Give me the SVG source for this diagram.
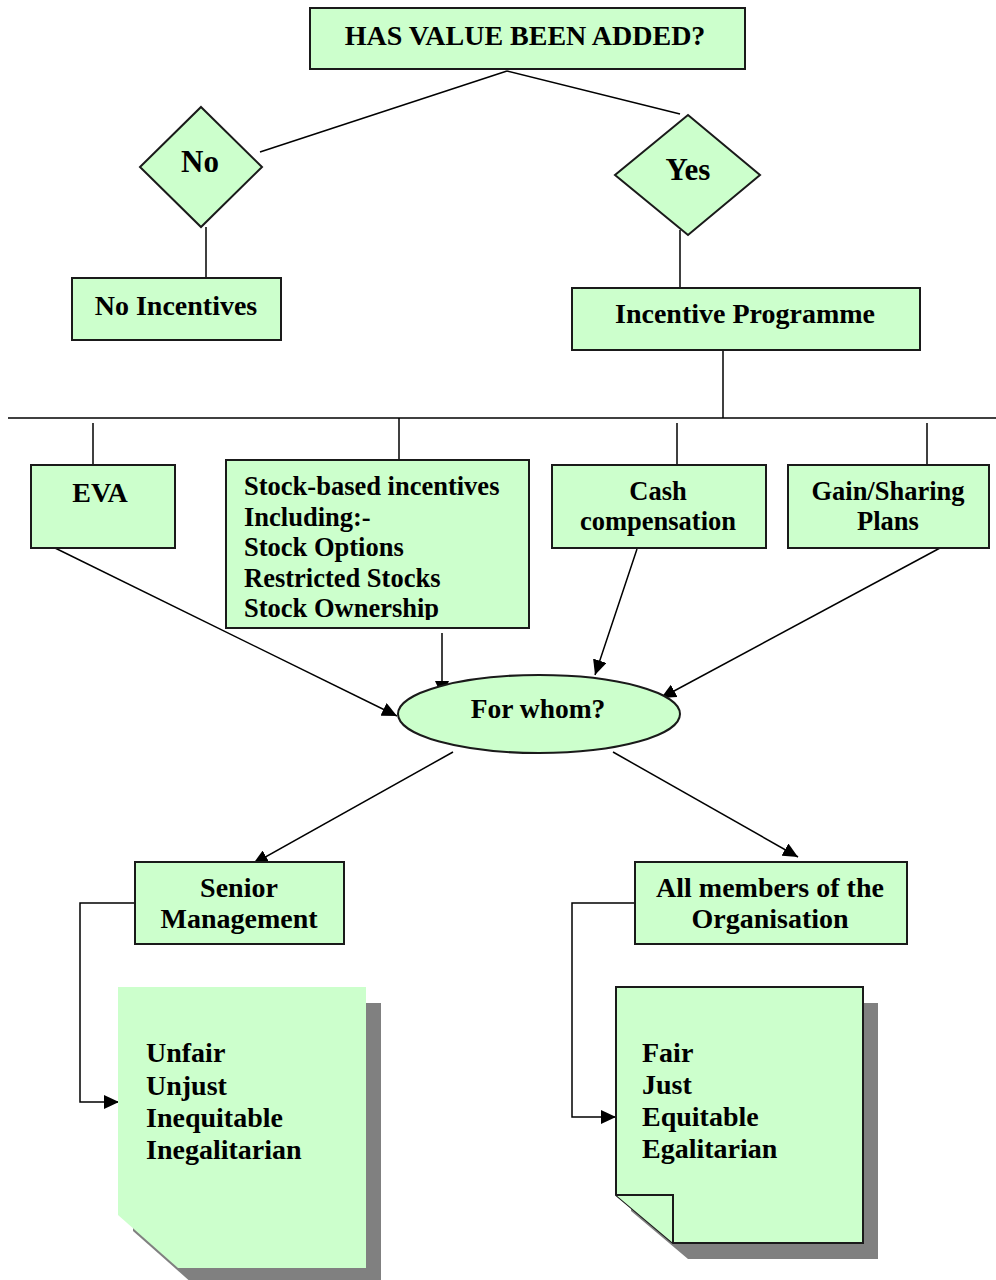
<svg xmlns="http://www.w3.org/2000/svg" width="996" height="1280" viewBox="0 0 996 1280">
<style>
.box{fill:#CCFFCC;stroke:#1a1a1a;stroke-width:2}
.ln{fill:none;stroke:#000;stroke-width:1.5}
.t{font-family:"Liberation Serif","Times New Roman",serif;font-weight:bold;font-size:28px;fill:#000}
.s{font-size:26.5px}
.c{text-anchor:middle}
.sh{fill:#808080}
</style>
<defs>
<marker id="ah" markerUnits="userSpaceOnUse" markerWidth="16" markerHeight="14" refX="15" refY="7" orient="auto">
<path d="M0,0 L15,7 L0,14 Z" fill="#000"/>
</marker>
<clipPath id="stockclip"><rect x="226" y="460" width="303" height="160"/></clipPath>
</defs>
<rect width="996" height="1280" fill="#fff"/>
<g id="connectors">
<line class="ln" x1="507" y1="71" x2="260" y2="152"/>
<line class="ln" x1="507" y1="71" x2="680" y2="114"/>
<line class="ln" x1="206" y1="227" x2="206" y2="278"/>
<line class="ln" x1="680" y1="230" x2="680" y2="288"/>
<line class="ln" x1="723" y1="350" x2="723" y2="418"/>
<line class="ln" x1="8" y1="418" x2="996" y2="418"/>
<line class="ln" x1="93" y1="423" x2="93" y2="465"/>
<line class="ln" x1="399" y1="418" x2="399" y2="460"/>
<line class="ln" x1="677" y1="423" x2="677" y2="465"/>
<line class="ln" x1="927" y1="423" x2="927" y2="465"/>
<line class="ln" x1="53" y1="547" x2="397" y2="716" marker-end="url(#ah)"/>
<line class="ln" x1="442" y1="633" x2="442" y2="696" marker-end="url(#ah)"/>
<line class="ln" x1="637" y1="549" x2="595" y2="675" marker-end="url(#ah)"/>
<line class="ln" x1="940" y1="548" x2="661" y2="698" marker-end="url(#ah)"/>
<line class="ln" x1="453" y1="752" x2="253" y2="864" marker-end="url(#ah)"/>
<line class="ln" x1="613" y1="752" x2="798" y2="857" marker-end="url(#ah)"/>
<polyline class="ln" points="140,903 80,903 80,1102 119,1102" marker-end="url(#ah)"/>
<polyline class="ln" points="635,903 572,903 572,1117 616,1117" marker-end="url(#ah)"/>
</g>
<g id="top">
<rect class="box" x="310" y="8" width="435" height="61"/>
<text class="t c" x="525" y="45">HAS VALUE BEEN ADDED?</text>
</g>
<g id="no">
<polygon class="box" points="201,107 262,167 201,227 140,167"/>
<text class="t c" x="200" y="172" style="font-size:31px">No</text>
</g>
<g id="yes">
<polygon class="box" points="688,115 760,175 688,235 615,175"/>
<text class="t c" x="688" y="180" style="font-size:31px">Yes</text>
</g>
<g id="no-incentives">
<rect class="box" x="72" y="278" width="209" height="62"/>
<text class="t c" x="176" y="315">No Incentives</text>
</g>
<g id="incentive-programme">
<rect class="box" x="572" y="288" width="348" height="62"/>
<text class="t c" x="745" y="323">Incentive Programme</text>
</g>
<g id="eva">
<rect class="box" x="31" y="465" width="144" height="83"/>
<text class="t c" x="100" y="502">EVA</text>
</g>
<g id="stock">
<rect class="box" x="226" y="460" width="303" height="168"/>
<g clip-path="url(#stockclip)">
<text class="t s" x="244" y="495">Stock-based incentives</text>
<text class="t s" x="244" y="525.5">Including:-</text>
<text class="t s" x="244" y="556">Stock Options</text>
<text class="t s" x="244" y="586.5">Restricted Stocks</text>
<text class="t s" x="244" y="617">Stock Ownership</text>
</g>
</g>
<g id="cash">
<rect class="box" x="552" y="465" width="214" height="83"/>
<text class="t c s" x="658" y="500">Cash</text>
<text class="t c s" x="658" y="530">compensation</text>
</g>
<g id="gain">
<rect class="box" x="788" y="465" width="201" height="83"/>
<text class="t c s" x="888" y="500">Gain/Sharing</text>
<text class="t c s" x="888" y="530">Plans</text>
</g>
<g id="forwhom">
<ellipse class="box" cx="539" cy="714" rx="141" ry="39"/>
<text class="t c" x="538" y="718" style="font-size:27.5px">For whom?</text>
</g>
<g id="senior">
<rect class="box" x="135" y="862" width="209" height="82"/>
<text class="t c" x="239" y="897">Senior</text>
<text class="t c" x="239" y="928">Management</text>
</g>
<g id="allmembers">
<rect class="box" x="635" y="862" width="272" height="82"/>
<text class="t c" x="770" y="897">All members of the</text>
<text class="t c" x="770" y="928">Organisation</text>
</g>
<g id="note-unfair">
<polygon class="sh" points="133,1003 381,1003 381,1284 193,1284 133,1231"/>
<polygon fill="#CCFFCC" points="118,987 366,987 366,1268 178,1268 118,1215"/>
<text class="t" x="146" y="1062">Unfair</text>
<text class="t" x="146" y="1095">Unjust</text>
<text class="t" x="146" y="1127">Inequitable</text>
<text class="t" x="146" y="1159">Inegalitarian</text>
</g>
<g id="note-fair">
<polygon class="sh" points="631,1003 878,1003 878,1259 688,1259 631,1211"/>
<polygon class="box" points="616,987 863,987 863,1243 673,1243 616,1195"/>
<polyline fill="#CCFFCC" stroke="#1a1a1a" stroke-width="2" points="616,1195 673,1195 673,1243"/>
<text class="t" x="642" y="1062">Fair</text>
<text class="t" x="642" y="1094">Just</text>
<text class="t" x="642" y="1126">Equitable</text>
<text class="t" x="642" y="1158">Egalitarian</text>
</g>
</svg>
